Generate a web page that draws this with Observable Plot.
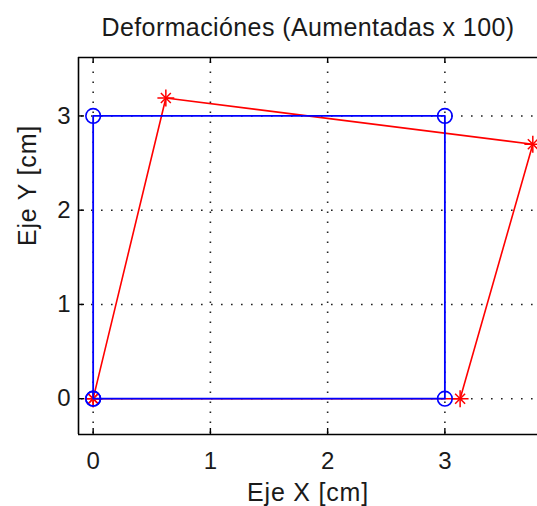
<!DOCTYPE html>
<html><head><meta charset="utf-8">
<script src="https://cdn.jsdelivr.net/npm/d3@7"></script>
<script src="https://cdn.jsdelivr.net/npm/@observablehq/plot@0.6"></script>
<style>body{margin:0;background:#fff;overflow:hidden}</style>
</head><body><div id="chart"></div>
<script>
const title = "Deformaciónes (Aumentadas x 100)";
const xLabel = "Eje X [cm]";
const yLabel = "Eje Y [cm]";
const xTicks = [0, 1, 2, 3];
const yTicks = [0, 1, 2, 3];
const xDomain = [-0.125, 3.79];
const yDomain = [-0.38, 3.62];
// original (undeformed) square
const originalX = [0, 3, 3, 0, 0];
const originalY = [0, 0, 3, 3, 0];
// deformed shape (x100)
const deformedX = [0, 0.62, 3.75, 3.13, 0];
const deformedY = [0, 3.19, 2.70, 0, 0];

const original = originalX.map((x, i) => ({x, y: originalY[i]}));
const deformed = deformedX.map((x, i) => ({x, y: deformedY[i]}));

const W = 537, H = 506, mL = 78, mT = 57, mB = 72, mR = 0;
const frameW = W - mL - mR, frameH = H - mT - mB, tickLen = 6;
const font = "'Liberation Sans', Arial, Helvetica, sans-serif";
const ink = "#1a1a1a";

const plot = Plot.plot({
  width: W, height: H,
  marginLeft: mL, marginTop: mT, marginBottom: mB, marginRight: mR,
  style: {fontFamily: font, fontSize: "24px", color: ink, background: "#fff", overflow: "visible"},
  x: {domain: xDomain, axis: null},
  y: {domain: yDomain, axis: null},
  marks: [
    // dotted grid
    Plot.ruleX(xTicks, {x: d => d, stroke: "#222", strokeWidth: 1.6, strokeDasharray: "1.6,8.4", strokeDashoffset: 5.5}),
    Plot.ruleY(yTicks, {y: d => d, stroke: "#222", strokeWidth: 1.6, strokeDasharray: "1.6,8.4", strokeDashoffset: 7}),
    // deformed (red)
    Plot.line(deformed, {x: "x", y: "y", stroke: "#ff0000", strokeWidth: 1.6}),
    Plot.dot(deformed, {x: "x", y: "y", symbol: "plus", r: 5.5, stroke: "#ff0000", strokeWidth: 1.5}),
    Plot.dot(deformed, {x: "x", y: "y", symbol: "times", r: 4.6, stroke: "#ff0000", strokeWidth: 1.5}),
    // original (blue)
    Plot.line(original, {x: "x", y: "y", stroke: "#0000ff", strokeWidth: 1.8}),
    Plot.dot(original, {x: "x", y: "y", symbol: "circle", r: 7.3, stroke: "#0000ff", fill: "none", strokeWidth: 1.6}),
    // axes box (left, top, bottom)
    Plot.ruleX([xDomain[0]], {x: d => d, stroke: "#000", strokeWidth: 1.6}),
    Plot.ruleY(yDomain, {y: d => d, stroke: "#000", strokeWidth: 1.6}),
    // inward ticks
    Plot.tickX(xTicks, {x: d => d, insetTop: frameH - tickLen, stroke: "#000", strokeWidth: 1.4}),
    Plot.tickX(xTicks, {x: d => d, insetBottom: frameH - tickLen, stroke: "#000", strokeWidth: 1.4}),
    Plot.tickY(yTicks, {y: d => d, insetRight: frameW - tickLen, stroke: "#000", strokeWidth: 1.4}),
    // tick labels
    Plot.axisX(xTicks, {anchor: "bottom", tickSize: 0, tickPadding: 17, label: null, tickFormat: d => String(d), fontSize: 24, fill: ink}),
    Plot.axisY(yTicks, {anchor: "left", tickSize: 0, tickPadding: 8, label: null, tickFormat: d => String(d), fontSize: 24, fill: ink}),
    // title and axis labels
    Plot.text([title], {frameAnchor: "top", lineAnchor: "bottom", dy: -22, text: d => d, fontSize: 25, fill: ink}),
    Plot.text([xLabel], {frameAnchor: "bottom", lineAnchor: "bottom", dy: 66, text: d => d, fontSize: 25, fill: ink}),
    Plot.text([yLabel], {frameAnchor: "left", lineAnchor: "bottom", rotate: -90, dx: -43, text: d => d, fontSize: 25, fill: ink})
  ]
});
document.getElementById("chart").appendChild(plot);
document.querySelectorAll("text").forEach(t => {
  if (t.textContent === title) t.style.letterSpacing = "0.4px";
  else if (t.textContent === xLabel || t.textContent === yLabel) t.style.letterSpacing = "0.8px";
});
</script>
</body></html>
